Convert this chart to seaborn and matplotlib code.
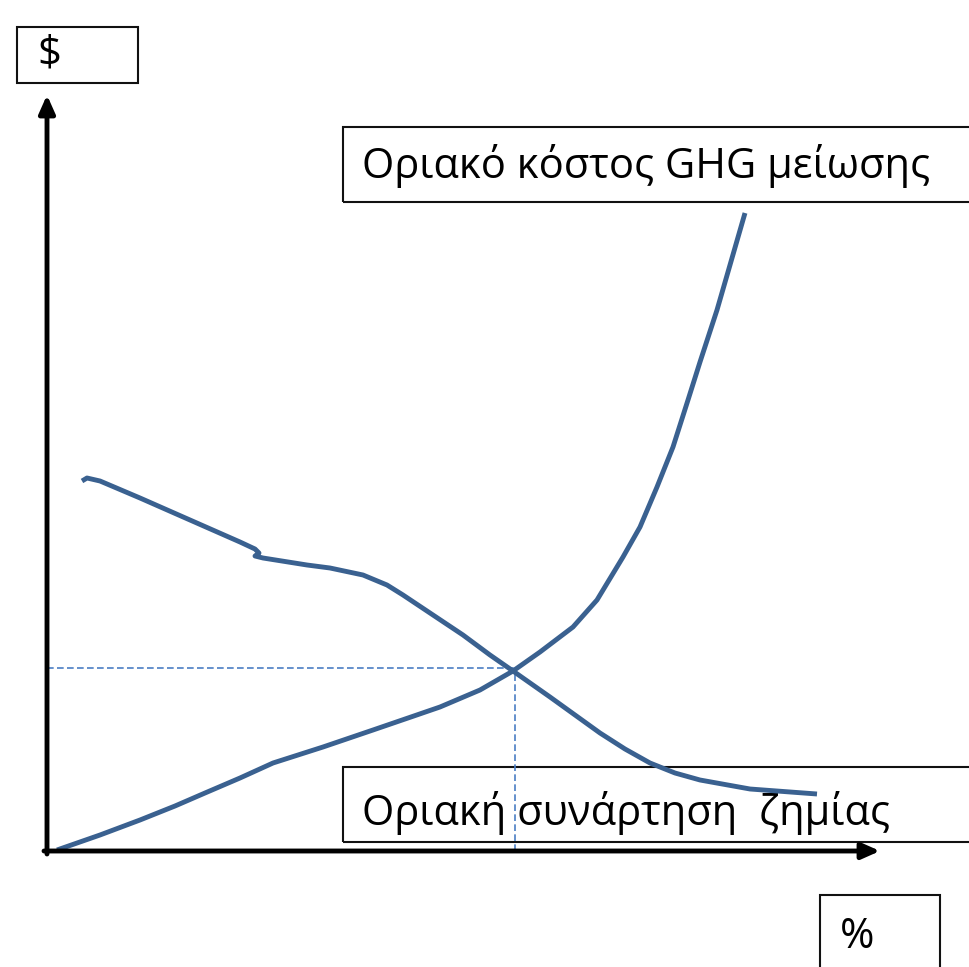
import matplotlib
matplotlib.use("Agg")
import matplotlib.pyplot as plt
from matplotlib.patches import Rectangle
import seaborn as sns

# marginal abatement cost curve (x = %, y = $)
mac_x = [1.0, 5.3, 9.3, 12.8, 15.8, 19.3, 22.6, 27.6, 32.6, 36.1, 39.3, 43.3, 46.6,
         49.3, 52.6, 55.0, 57.6, 59.3, 61.0, 62.6, 64.1, 65.3, 67.0, 68.3, 69.8]
mac_y = [0.1, 1.6, 3.1, 4.5, 5.8, 7.3, 8.8, 10.4, 12.1, 13.3, 14.4, 16.1, 18.0,
         19.9, 22.4, 25.1, 29.4, 32.4, 36.4, 40.4, 45.1, 48.9, 54.1, 58.6, 63.8]

# marginal damage curve
dmg_x = [3.5, 4.0, 5.3, 9.3, 14.3, 19.3, 20.8, 21.2, 20.8, 21.6, 26.0, 28.3, 31.6,
         34.0, 35.6, 38.3, 41.6, 44.3, 46.6, 50.3, 55.3, 57.8, 60.3, 62.8, 65.3,
         70.3, 77.0]
dmg_y = [37.0, 37.3, 37.0, 35.3, 33.1, 30.9, 30.2, 29.8, 29.5, 29.3, 28.6, 28.3,
         27.6, 26.6, 25.6, 23.8, 21.6, 19.6, 18.0, 15.4, 11.8, 10.2, 8.8, 7.8, 7.1,
         6.2, 5.7]

eq_x, eq_y = 46.8, 18.3

label_mac = "Οριακό κόστος GHG μείωσης"
label_dmg = "Οριακή συνάρτηση  ζημίας"
label_y = "$"
label_x = "%"

sns.set_theme(style="white")
plt.rcParams['font.family'] = ['Open Sans', 'DejaVu Sans']

fig = plt.figure(figsize=(9.69, 9.67), dpi=100)
ax = fig.add_axes([0, 0, 1, 1])
ax.set_xlim(-4.7, 92.2)
ax.set_ylim(-11.6, 85.1)
ax.axis('off')

curve_color = "#3A6190"
for xs, ys in [(mac_x, mac_y), (dmg_x, dmg_y)]:
    sns.lineplot(x=xs, y=ys, sort=False, estimator=None, color=curve_color,
                 lw=3.5, ax=ax, zorder=4, solid_joinstyle='round',
                 solid_capstyle='butt')

# dashed guides to the intersection
dash_color = "#4A7EC4"
ax.plot([0, eq_x], [eq_y, eq_y], ls=(0, (4, 2)), color=dash_color, lw=1.2, zorder=3)
ax.plot([eq_x, eq_x], [0, eq_y], ls=(0, (4, 2)), color=dash_color, lw=1.2, zorder=3)

# axes with arrows
arrow = dict(arrowstyle='-|>,head_length=0.9,head_width=0.4', lw=3.5, color='black',
             shrinkA=0, shrinkB=0)
ax.annotate('', xy=(0, 75.6), xytext=(0, -0.3), arrowprops=arrow, zorder=5)
ax.annotate('', xy=(83.3, 0), xytext=(-0.3, 0), arrowprops=arrow, zorder=5)

# text boxes
boxes = [(-3.0, 76.8, 12.1, 5.6), (29.6, 64.9, 64.0, 7.5),
         (29.6, 0.9, 64.0, 7.5), (77.3, -12.4, 12.0, 8.0)]
for bx, by, bw, bh in boxes:
    ax.add_patch(Rectangle((bx, by), bw, bh, fill=False, ec='#111111', lw=1.5,
                           zorder=2))

text_kw = dict(fontsize=30, va='center', ha='left', color='black')
ax.text(-1.0, 79.6, label_y, **text_kw)
ax.text(31.5, 68.5, label_mac, **text_kw)
ax.text(31.5, 3.8, label_dmg, **text_kw)
ax.text(79.3, -8.6, label_x, **text_kw)

plt.savefig('out.png', dpi=100)
plt.close()
